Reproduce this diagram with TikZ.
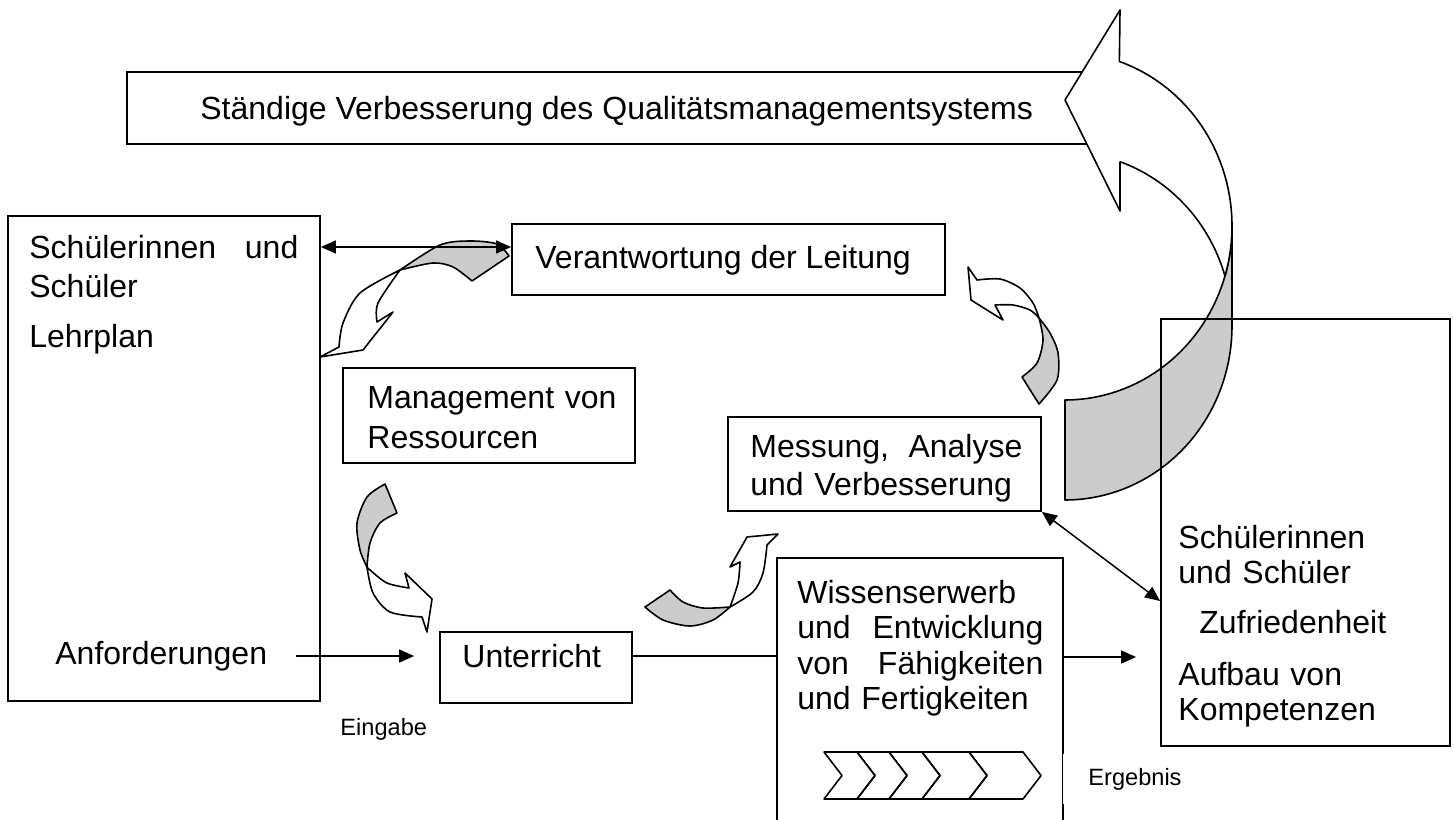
\documentclass[tikz,border=0pt]{standalone}
\usepackage{fontspec}
\setmainfont{Liberation Sans}
\usetikzlibrary{arrows.meta}

\tikzset{
  box/.style={draw,line width=0.9pt,inner sep=0pt},
  txt/.style={inner sep=0pt,font=\fontsize{16}{17.75}\selectfont},
  small/.style={inner sep=0pt,font=\fontsize{11.8}{13}\selectfont},
  conn/.style={line width=0.75pt},
  arr/.style={conn,-{Triangle[length=7.5pt,width=6.5pt]}},
  darr/.style={conn,{Triangle[length=7.5pt,width=6.5pt]}-{Triangle[length=7.5pt,width=6.5pt]}},
  back/.style={draw,line width=0.8pt,fill=black!20,line join=round},
  front/.style={draw,line width=0.8pt,fill=white,line join=round},
  chev/.style={draw,line width=0.8pt,line join=round}
}

\begin{document}
\begin{tikzpicture}[x=0.5pt,y=-0.5pt]
\useasboundingbox (0,0) rectangle (1454,819);

% boxes
\node[box,minimum width=486.5pt,minimum height=36pt] (tb) at (613.5,108) {};
\node[box,minimum width=156pt,minimum height=242.5pt] (lb) at (164,458.5) {};
\node[box,minimum width=216.5pt,minimum height=35.5pt] (vb) at (728.5,259.5) {};
\node[box,minimum width=146pt,minimum height=47.5pt] (mb) at (489,415.5) {};
\node[box,minimum width=156.5pt,minimum height=47pt] (ab) at (884.5,464) {};
\node[box,minimum width=96pt,minimum height=35.5pt] (ub) at (536,667.5) {};
\node[box,minimum width=143pt,minimum height=151pt] (wb) at (920,709) {};

% big turning arrow
\filldraw[back] (1065,400)
  -- plot[domain=90:0,samples=40] ({1065+167*cos(\x)},{226+174*sin(\x)})
  -- (1232,326)
  -- plot[domain=0:90,samples=40] ({1065+167*cos(\x)},{326+174*sin(\x)})
  -- cycle;
\filldraw[front] (1120,10) -- (1065,100) -- (1120,211) -- (1120,162)
  -- plot[domain=-70.5:-16.7,samples=30] ({1065+167*cos(\x)},{326+174*sin(\x)})
  -- plot[domain=16.7:-71,samples=40] ({1065+167*cos(\x)},{226+174*sin(\x)})
  -- cycle;

\node[box,minimum width=144.5pt,minimum height=213.5pt] (rb) at (1305.5,532.5) {};

% small curved arrows
\filldraw[back] plot[smooth] coordinates {(509,256) (497,244) (470,241) (440,245) (400,270)}
  -- plot[smooth] coordinates {(400,270) (433,263) (453,267) (472,281)} -- cycle;
\filldraw[front] plot[smooth] coordinates {(400,270) (360,293) (343,323) (339,347)}
  -- (320,357) -- (363,350) -- (393,312) -- (377,322)
  -- plot[smooth] coordinates {(377,322) (378,303) (400,270)} -- cycle;

\filldraw[back] plot[smooth] coordinates {(385,484) (367,497) (357,523) (360,550) (367,567)}
  -- plot[smooth] coordinates {(367,567) (370,543) (380,523) (397,513)} -- cycle;
\filldraw[front] plot[smooth] coordinates {(367,567) (373,593) (390,612) (422,617)}
  -- (427,632) -- (432,599) -- (405,573) -- (409,588)
  -- plot[smooth] coordinates {(409,588) (387,583) (370,570) (367,567)} -- cycle;

\filldraw[back] plot[smooth] coordinates {(645,607) (663,620) (690,626) (713,620) (730,607)}
  -- plot[smooth] coordinates {(730,607) (703,608) (683,602) (670,590)} -- cycle;
\filldraw[front] plot[smooth] coordinates {(730,607) (753,592) (763,573) (767,545)}
  -- (778,534) -- (747,537) -- (730,567) -- (740,562)
  -- plot[smooth] coordinates {(740,562) (738,583) (730,607)} -- cycle;

\filldraw[back] plot[smooth] coordinates {(1039,404) (1057,380) (1058,353) (1050,333) (1039,318)}
  -- plot[smooth] coordinates {(1039,318) (1043,340) (1037,363) (1022,377)} -- cycle;
\filldraw[front] plot[smooth] coordinates {(1039,318) (1033,303) (1020,288) (1000,279) (977,280)}
  -- (968,267) -- (971,300) -- (1003,320) -- (995,305)
  -- plot[smooth] coordinates {(995,305) (1013,305) (1030,310) (1039,318)} -- cycle;

% texts
\node[txt,anchor=base west] (tbt) at (200,119) {Ständige Verbesserung des Qualitätsmanagementsystems};
\node[txt,anchor=base west,text width=134.5pt] (lbt) at (29,258)
  {\baselineskip=19.5pt Schülerinnen\hfill und\\Schüler\\[7.5pt]Lehrplan};
\node[txt,anchor=base west] (anf) at (55,664) {Anforderungen};
\node[small,anchor=base west] (ein) at (340,735) {Eingabe};
\node[txt,anchor=base west] (vbt) at (535,268) {Verantwortung der Leitung};
\node[txt,anchor=base west,text width=130pt] (mbt) at (367,408)
  {Management von\\[2.25pt]Ressourcen};
\node[txt,anchor=base west,text width=136pt] (abt) at (750,457)
  {Messung,\hfill Analyse\\[1.25pt]und Verbesserung};
\node[txt,anchor=base west] (ubt) at (462,667) {Unterricht};
\node[txt,anchor=base west,text width=123pt] (wbt) at (797,603)
  {Wissenserwerb\\und\hfill Entwicklung\\von\hfill Fähigkeiten\\und Fertigkeiten};
\node[txt,anchor=base west,text width=130pt] (rbt) at (1178,548)
  {Schülerinnen\\und Schüler};
\node[txt,anchor=base west] (zuf) at (1199,633) {Zufriedenheit};
\node[txt,anchor=base west,text width=130pt] (auf) at (1178,685)
  {Aufbau von\\Kompetenzen};
\node[small,anchor=west,fill=white,minimum height=25pt,inner xsep=12.5pt] (erg) at (1063,779) {Ergebnis};

% process chevrons
\foreach \a/\b in {824/857,857/889,889/922,922/969,969/1023}
  \draw[chev] (\a,752) -- (\b,752) -- (\b+18,775.5) -- (\b,799) -- (\a,799) -- (\a+18,775.5) -- cycle;

% connectors
\draw[darr] (lb.east |- 0,247) -- (vb.west |- 0,247);
\draw[arr] ([xshift=14pt]anf.east |- 0,656) -- ([xshift=-12.5pt]ub.west |- 0,656);
\draw[conn] (ub.east |- 0,656) -- (wb.west |- 0,656);
\draw[arr] (wb.east |- 0,657) -- ([xshift=-12pt]rb.west |- 0,657);
\draw[darr] (ab.south east) -- (rb.west |- 0,601);
\end{tikzpicture}
\end{document}
